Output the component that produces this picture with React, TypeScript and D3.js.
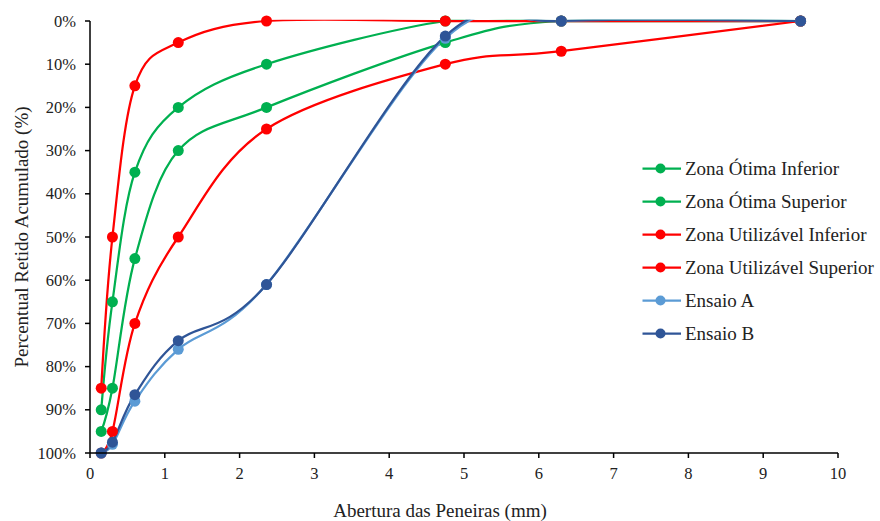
import React from "react";
import * as d3 from "d3";

const sieves = [0.15, 0.3, 0.6, 1.18, 2.36, 4.75, 6.3, 9.5];
const otimaInferior = [90, 65, 35, 20, 10, 0, 0, 0];
const otimaSuperior = [95, 85, 55, 30, 20, 5, 0, 0];
const utilInferior = [85, 50, 15, 5, 0, 0, 0, 0];
const utilSuperior = [100, 95, 70, 50, 25, 10, 7, 0];
const ensaioA = [100, 98, 88, 76, 61, 4, 0, 0];
const ensaioB = [100, 97.5, 86.5, 74, 61, 3.5, 0, 0];
const xTicks = [0, 1, 2, 3, 4, 5, 6, 7, 8, 9, 10];
const yTicks = [0, 10, 20, 30, 40, 50, 60, 70, 80, 90, 100];

const series = [
  { name: "Zona Ótima Inferior", values: otimaInferior, color: "#00B050" },
  { name: "Zona Ótima Superior", values: otimaSuperior, color: "#00B050" },
  { name: "Zona Utilizável Inferior", values: utilInferior, color: "#FF0000" },
  { name: "Zona Utilizável Superior", values: utilSuperior, color: "#FF0000" },
  { name: "Ensaio A", values: ensaioA, color: "#5B9BD5" },
  { name: "Ensaio B", values: ensaioB, color: "#2F5597" },
];

const W = 880, H = 521;
const L = 90, R = 838, T = 21, B = 453;
const font = "Liberation Serif";

export default function App() {
  const x = d3.scaleLinear().domain([0, 10]).range([L, R]);
  const y = d3.scaleLinear().domain([0, 100]).range([T, B]);
  const line = d3
    .line<number>()
    .x((_, i) => x(sieves[i]))
    .y((v) => y(v))
    .curve(d3.curveCardinal.tension(0));

  return (
    <svg width={W} height={H} fontFamily={font} style={{ position: "absolute", left: 0, top: 0, background: "#fff" }}>
      <defs>
        <clipPath id="plot">
          <rect x={L} y={T - 1.2} width={R - L + 10} height={B - T + 10} />
        </clipPath>
      </defs>
      <g clipPath="url(#plot)">
        {series.map((s) => (
          <path key={s.name} d={line(s.values) || ""} fill="none" stroke={s.color} strokeWidth={2.25} />
        ))}
      </g>
      {series.map((s) => (
        <g key={s.name + "m"}>
          {s.values.map((v, i) => (
            <circle key={i} cx={x(sieves[i])} cy={y(v)} r={5.5} fill={s.color} />
          ))}
        </g>
      ))}
      <line x1={L} y1={T} x2={L} y2={B} stroke="#000" strokeWidth={1.5} />
      <line x1={L} y1={B} x2={R} y2={B} stroke="#000" strokeWidth={1.5} />
      {yTicks.map((t) => (
        <g key={"y" + t}>
          <line x1={L - 5} x2={L} y1={y(t)} y2={y(t)} stroke="#000" strokeWidth={1.5} />
          <text x={76} y={y(t) + 5.5} textAnchor="end" fontFamily={font} fontSize={16.5} fill="#222">
            {t + "%"}
          </text>
        </g>
      ))}
      {xTicks.map((t) => (
        <g key={"x" + t}>
          <line x1={x(t)} x2={x(t)} y1={B} y2={B + 5} stroke="#000" strokeWidth={1.5} />
          <text x={x(t)} y={479} textAnchor="middle" fontFamily={font} fontSize={16.5} fill="#222">
            {t}
          </text>
        </g>
      ))}
      <text x={440} y={517} textAnchor="middle" fontFamily={font} fontSize={19} fill="#222">
        Abertura das Peneiras (mm)
      </text>
      <text
        transform={`translate(28, ${(T + B) / 2}) rotate(-90)`}
        textAnchor="middle"
        fontFamily={font}
        fontSize={19}
        fill="#222"
      >
        Percentual Retido Acumulado (%)
      </text>
      {series.map((s, i) => {
        const ly = 168.5 + i * 33;
        return (
          <g key={s.name + "l"}>
            <line x1={642.5} x2={681} y1={ly} y2={ly} stroke={s.color} strokeWidth={2.25} />
            <circle cx={660.5} cy={ly} r={5} fill={s.color} />
            <text x={685} y={ly + 6.5} fontFamily={font} fontSize={19} fill="#222">
              {s.name}
            </text>
          </g>
        );
      })}
    </svg>
  );
}
